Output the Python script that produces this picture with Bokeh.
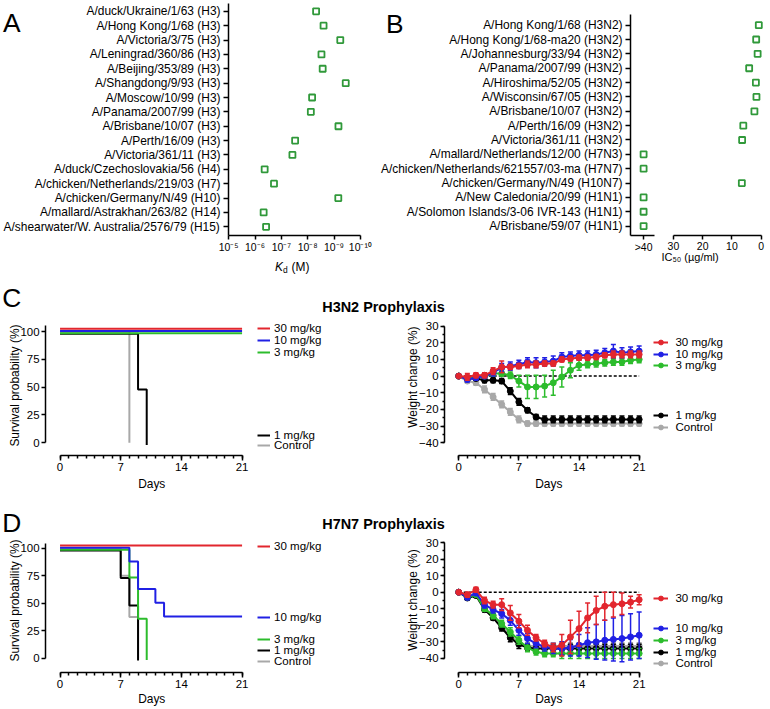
import math
import numpy as np
from bokeh.plotting import figure
from bokeh.models import (Range1d, FixedTicker, Label, Legend, LegendItem, Whisker,
                          TeeHead, ColumnDataSource, GridBox)
from bokeh.layouts import column, row
from bokeh.embed import file_html
from bokeh.resources import INLINE

# ------------------------------------------------------------------ data
strains_a = ["A/duck/Ukraine/1/63 (H3)", "A/Hong Kong/1/68 (H3)", "A/Victoria/3/75 (H3)",
             "A/Leningrad/360/86 (H3)", "A/Beijing/353/89 (H3)", "A/Shangdong/9/93 (H3)",
             "A/Moscow/10/99 (H3)", "A/Panama/2007/99 (H3)", "A/Brisbane/10/07 (H3)",
             "A/Perth/16/09 (H3)", "A/Victoria/361/11 (H3)", "A/duck/Czechoslovakia/56 (H4)",
             "A/chicken/Netherlands/219/03 (H7)", "A/chicken/Germany/N/49 (H10)",
             "A/mallard/Astrakhan/263/82 (H14)", "A/shearwater/W. Australia/2576/79 (H15)"]
kd_a = [4.8e-9, 2.5e-9, 5.8e-10, 3.0e-9, 2.7e-9, 3.6e-10, 6.8e-9, 7.6e-9, 6.8e-10,
        3.0e-8, 3.8e-8, 4.3e-7, 1.9e-7, 6.9e-10, 4.7e-7, 3.8e-7]
kd_ticks = [1e-5, 1e-6, 1e-7, 1e-8, 1e-9, 1e-10]
kd_tick_labels = ["10\u207b\u2075", "10\u207b\u2076", "10\u207b\u2077", "10\u207b\u2078",
                  "10\u207b\u2079", "10\u207b\u00b9\u2070"]

strains_b = ["A/Hong Kong/1/68 (H3N2)", "A/Hong Kong/1/68-ma20 (H3N2)", "A/Johannesburg/33/94 (H3N2)",
             "A/Panama/2007/99 (H3N2)", "A/Hiroshima/52/05 (H3N2)", "A/Wisconsin/67/05 (H3N2)",
             "A/Brisbane/10/07 (H3N2)", "A/Perth/16/09 (H3N2)", "A/Victoria/361/11 (H3N2)",
             "A/mallard/Netherlands/12/00 (H7N3)", "A/chicken/Netherlands/621557/03-ma (H7N7)",
             "A/chicken/Germany/N/49 (H10N7)", "A/New Caledonia/20/99 (H1N1)",
             "A/Solomon Islands/3-06 IVR-143 (H1N1)", "A/Brisbane/59/07 (H1N1)"]
ic50_b = [0.8, 1.7, 1.2, 4.1, 1.8, 1.6, 2.3, 6.1, 6.5, ">40", ">40", 6.6, ">40", ">40", ">40"]
ic50_ticks = [30, 20, 10, 0]
GT40 = ">40"
GT40_POS = 40

doses = ["30 mg/kg", "10 mg/kg", "3 mg/kg", "1 mg/kg", "Control"]

# survival (Kaplan-Meier steps), H3N2
c_s30_days, c_s30 = [0, 21], [100, 100]
c_s10_days, c_s10 = [0, 21], [100, 100]
c_s3_days, c_s3 = [0, 21], [100, 100]
c_s1_days, c_s1 = [0, 9, 10], [100, 50, 0]
c_sc_days, c_sc = [0, 8], [100, 0]
# survival, H7N7
d_s30_days, d_s30 = [0, 21], [100, 100]
d_s10_days, d_s10 = [0, 8, 9, 11, 12, 21], [100, 87.5, 62.5, 50, 37.5, 37.5]
d_s3_days, d_s3 = [0, 8, 9, 10], [100, 75, 37.5, 0]
d_s1_days, d_s1 = [0, 7, 8, 9], [100, 75, 50, 0]
d_sc_days, d_sc = [0, 7, 8, 9], [100, 75, 37.5, 0]

days = [0, 1, 2, 3, 4, 5, 6, 7, 8, 9, 10, 11, 12, 13, 14, 15, 16, 17, 18, 19, 20, 21]
# weight change (%), H3N2
c_w30 = [0, -0.5, 0.5, 0.5, 3, 5.5, 5.5, 6, 7, 7, 7.5, 7.5, 10, 10.5, 11, 11, 11.5, 12.5, 13, 13, 13, 13]
c_e30 = [0, 2, 1.5, 1.5, 2, 3.5, 1.5, 1.5, 2, 2, 1.5, 1.5, 1.5, 1.5, 1.5, 1.5, 1.5, 1.5, 2, 2, 2, 2]
c_w10 = [0, -2, -1, 0, 2, 5, 6, 7, 8.5, 8, 8.5, 9, 11.5, 12, 12.5, 12.5, 13, 14, 15, 14, 14.5, 15]
c_e10 = [0, 1.5, 1.5, 1.5, 2, 2.5, 2.5, 2.5, 2.5, 3, 2.5, 3, 2.5, 2.5, 2.5, 2.5, 2.5, 2.5, 4, 3, 3, 3]
c_w3 = [0, -1.5, -0.5, 0, 1.5, 1.5, 0.5, -3, -6.5, -6.5, -6, -4, -0.5, 3.5, 6.5, 7, 7.5, 8, 8.5, 8.5, 9.5, 10]
c_e3 = [0, 1, 1, 1, 1.5, 1.5, 2, 3.5, 7, 7, 6.5, 7.5, 6, 4.5, 3, 2, 2, 2, 2, 2, 2, 2]
c_w1 = [0, -1.5, -1.5, -2.5, -2.5, -3, -9, -15.5, -20.5, -24.5, -26, -26, -26, -26, -26, -26, -26, -26, -26, -26, -26, -26]
c_e1 = [0, 1, 1, 1.5, 1.5, 1.5, 2, 2, 1.5, 1.5, 2, 2, 2, 2, 2, 2, 2, 2, 2, 2, 2, 2]
c_wc = [0, -3, -4, -8, -12.5, -17, -21.5, -26, -28.5, -28.5, -28.5, -28.5, -28.5, -28.5, -28.5, -28.5, -28.5, -28.5, -28.5, -28.5, -28.5, -28.5]
c_ec = [0, 1, 1.5, 2, 2, 2, 2, 2, 1.5, 1.5, 1.5, 1.5, 1.5, 1.5, 1.5, 1.5, 1.5, 1.5, 1.5, 1.5, 1.5, 1.5]
# weight change (%), H7N7
d_w30 = [0, -1.5, 1.5, -5, -7.5, -7.5, -12.5, -17.5, -23, -27.5, -31, -33.5, -32, -27, -22, -15.5, -11, -8.5, -7.5, -7, -6, -4.5]
d_e30 = [0, 1.5, 1.5, 2, 2, 3.5, 4.5, 4, 3, 2, 2, 2.5, 6.5, 10, 10.5, 9, 8.5, 8.5, 7.5, 6.5, 3.5, 3]
d_w10 = [0, -3, -0.5, -7.5, -10.5, -13, -17, -23, -28, -31, -33, -34, -34, -33.5, -32, -30.5, -30, -29, -28.5, -28, -27, -26]
d_e10 = [0, 1.5, 1.5, 2, 2, 2.5, 3, 3, 3, 2.5, 2.5, 3, 4, 5, 6.5, 9, 10.5, 12, 13, 14, 14, 14]
d_w3 = [0, -3, -1.5, -10, -14, -19, -24, -29, -33.5, -36, -37, -37, -37, -37, -37, -37, -37, -37, -37, -37, -37, -37]
d_e3 = [0, 1, 1, 1.5, 2, 2, 2.5, 2.5, 2.5, 2, 2, 2, 3, 3, 3, 3, 3, 3, 3, 3, 3, 3]
d_w1 = [0, -3.5, -2, -10.5, -15.5, -21.5, -27.5, -31.5, -33.5, -34, -34, -34, -34, -34, -34, -34, -34, -34, -34, -34, -34, -34]
d_e1 = [0, 1, 1, 1.5, 1.5, 2, 2.5, 2.5, 2, 2, 2, 2, 2.5, 2.5, 2.5, 2.5, 2.5, 2.5, 2.5, 2.5, 2.5, 2.5]
d_wc = [0, -3, -2, -9.5, -14, -20, -26, -30.5, -32.5, -32.5, -32.5, -32.5, -32.5, -32.5, -32.5, -32.5, -32.5, -32.5, -32.5, -32.5, -32.5, -32.5]
d_ec = [0, 1, 1, 1.5, 1.5, 2, 2, 2, 2, 2, 2, 2, 2, 2, 2, 2, 2, 2, 2, 2, 2, 2]

# ------------------------------------------------------------------ style
S = 0.995
FONT = "Liberation Sans"
RED, BLUE, GREEN, BLACK, GREY = "#e2262e", "#2020e4", "#2cbc2c", "#000000", "#a8a8a8"
SQ_GREEN = "#30993a"
COLORS = [RED, BLUE, GREEN, BLACK, GREY]
# GraphPad-style small vertical nudges (in %) so that coinciding survival curves stay visible
SURV_NUDGE = [2.5, 0.5, -1.5, -2.0, 0.0]


def fs(v):
    return f"{v * S:.2f}px"


class Fig:
    pass


def make_fig(ox, oy, w, h, frame, xcal, ycal, xloc="below", yloc="left"):
    X0, X1 = round(S * ox), round(S * (ox + w))
    Y0, Y1 = round(S * oy), round(S * (oy + h))
    l, r, t, b = frame
    L, R, T, B = round(S * l), round(S * r), round(S * t), round(S * b)
    (p1, v1), (p2, v2) = xcal
    (q1, w1), (q2, w2) = ycal
    f = Fig()
    f.fx = lambda p: v1 + (p - p1) * (v2 - v1) / (p2 - p1)
    f.fy = lambda q: w1 + (q - q1) * (w2 - w1) / (q2 - q1)
    f.frame = (L / S, R / S, T / S, B / S)
    pad = 0.6 / S
    p = figure(width=X1 - X0, height=Y1 - Y0, title=None,
               x_range=Range1d(f.fx(L / S - pad), f.fx(R / S + pad)),
               y_range=Range1d(f.fy(B / S + pad), f.fy(T / S - pad)),
               min_border_left=L - X0, min_border_right=X1 - R,
               min_border_top=T - Y0, min_border_bottom=Y1 - B,
               x_axis_location=xloc, y_axis_location=yloc,
               output_backend="svg", toolbar_location=None, tools="")
    p.outline_line_color = None
    p.grid.visible = False
    f.p = p
    return f


def style_axis(ax, size, tick_out=4, minor_out=0, standoff=2):
    ax.axis_line_color = "black"
    ax.axis_line_width = 1.5
    ax.major_tick_line_color = "black"
    ax.major_tick_line_width = 1.5
    ax.minor_tick_line_color = "black"
    ax.minor_tick_line_width = 1.5
    ax.major_tick_out = tick_out
    ax.major_tick_in = 0
    ax.minor_tick_out = minor_out
    ax.minor_tick_in = 0
    ax.major_label_text_font = FONT
    ax.major_label_text_font_size = fs(size)
    ax.major_label_text_color = "black"
    ax.major_label_standoff = standoff


def legend_item(f, renderers, label, gx0, gx1, tx, cy, size=11.6):
    la, ra, ta, ba = f.frame
    h_est = 13
    leg = Legend(items=[LegendItem(label=label, renderers=renderers)],
                 location=(S * (gx0 - la), S * (ba - cy) - h_est / 2),
                 orientation="vertical", padding=0, margin=0, spacing=0,
                 glyph_width=round(S * (gx1 - gx0)), glyph_height=12, label_height=12,
                 label_standoff=round(S * (tx - gx1)),
                 label_text_font=FONT, label_text_font_size=fs(size), label_text_color="black",
                 border_line_alpha=0, background_fill_alpha=0)
    f.p.add_layout(leg)


# plots sharing a row get the same top/bottom frame edges (Bokeh aligns them anyway);
# axis lines are then limited with bounds where the reference axis is shorter
ROW1_TOP, ROW1_BOT = 3.25, 236.0
ROWC_TOP, ROWC_BOT = 316.0, 457.7
ROWD_TOP, ROWD_BOT = 535.0, 675.0

# ------------------------------------------------------------------ panel A
A = make_fig(0, 0, 379, 272, (228.7, 362.3, ROW1_TOP, ROW1_BOT),
             ((228.7, -5), (362.3, -10)), ((10.3, 0), (228.0, 15)))
ya = list(range(len(strains_a)))
A.p.scatter(x=list(np.log10(kd_a)), y=ya, marker="square", size=6, fill_color="white",
            line_color=SQ_GREEN, line_width=1.8)
exps = [int(round(math.log10(t))) for t in kd_ticks]
ax = A.p.xaxis[0]
style_axis(ax, 10.5, tick_out=4, standoff=2)
ax.ticker = FixedTicker(ticks=exps, minor_ticks=[])
ax.major_label_overrides = dict(zip(exps, kd_tick_labels))
ay = A.p.yaxis[0]
style_axis(ay, 12, tick_out=5, standoff=3)
ay.ticker = FixedTicker(ticks=ya, minor_ticks=[])
ay.major_label_overrides = dict(zip(ya, strains_a))

# ------------------------------------------------------------------ panel B
xcalB = ((675.7, 30), (765, 0))
ycalB = ((24.3, 0), (227.3, 14))
B1 = make_fig(379, 0, 283, 272, (632.3, 657.7, ROW1_TOP, ROW1_BOT), xcalB, ycalB)
B2 = make_fig(662, 0, 108, 272, (675.7, 770, ROW1_TOP, ROW1_BOT), xcalB, ycalB, yloc=None)
yb = list(range(len(strains_b)))
gt_y = [y for y, v in zip(yb, ic50_b) if v == GT40]
num_y = [y for y, v in zip(yb, ic50_b) if v != GT40]
num_x = [v for v in ic50_b if v != GT40]
B1.p.scatter(x=[GT40_POS] * len(gt_y), y=gt_y, marker="square", size=6, fill_color="white",
             line_color=SQ_GREEN, line_width=1.8)
B2.p.scatter(x=num_x, y=num_y, marker="square", size=6, fill_color="white",
             line_color=SQ_GREEN, line_width=1.8)
bx1 = B1.p.xaxis[0]
style_axis(bx1, 10.5, tick_out=4, standoff=2)
bx1.ticker = FixedTicker(ticks=[GT40_POS], minor_ticks=[])
bx1.major_label_overrides = {GT40_POS: GT40}
by = B1.p.yaxis[0]
style_axis(by, 12, tick_out=5, standoff=3)
by.ticker = FixedTicker(ticks=yb, minor_ticks=[])
by.major_label_overrides = dict(zip(yb, strains_b))
by.bounds = (B1.fy(13.3), B1.fy(ROW1_BOT + 2))
bx2 = B2.p.xaxis[0]
style_axis(bx2, 10.5, tick_out=4, standoff=2)
bx2.ticker = FixedTicker(ticks=ic50_ticks, minor_ticks=[])
bx2.bounds = (min(ic50_ticks), max(ic50_ticks))


# ------------------------------------------------------------------ survival + weight panels
def survival_panel(f, series, legend_y, axis_top):
    p = f.p
    rends = [None] * 5
    for i in [4, 3, 2, 1, 0]:
        dd, ss = series[i]
        rends[i] = p.step(x=dd, y=[v + SURV_NUDGE[i] for v in ss], mode="after",
                          line_color=COLORS[i], line_width=2)
    xa = p.xaxis[0]
    style_axis(xa, 11.5, tick_out=5, minor_out=3, standoff=2)
    xa.ticker = FixedTicker(ticks=[0, 7, 14, 21], minor_ticks=days)
    xa.bounds = (days[0], days[-1])
    ya_ = p.yaxis[0]
    style_axis(ya_, 11.5, tick_out=4, standoff=2)
    ya_.ticker = FixedTicker(ticks=[0, 25, 50, 75, 100], minor_ticks=[])
    ya_.bounds = (0, f.fy(axis_top))
    for i in range(5):
        legend_item(f, [rends[i]], doses[i], 258.3, 271.7, 275.3, legend_y[i])


def weight_panel(f, series, legend_y):
    p = f.p
    p.line(x=[days[0], days[-1]], y=[0, 0], line_color="black", line_width=1.5, line_dash="3 2")
    rends = [None] * 5
    for i in [4, 3, 2, 1, 0]:
        mean, err = series[i]
        col = COLORS[i]
        idx = [k for k in range(len(days)) if err[k] > 0]
        src = ColumnDataSource(dict(x=[days[k] for k in idx],
                                    lo=[mean[k] - err[k] for k in idx],
                                    hi=[mean[k] + err[k] for k in idx]))
        w = Whisker(source=src, base="x", lower="lo", upper="hi", line_color=col, line_width=1.5,
                    upper_head=TeeHead(size=5, line_color=col, line_width=1.5),
                    lower_head=TeeHead(size=5, line_color=col, line_width=1.5), level="glyph")
        p.renderers.append(w)
        lr = p.line(x=days, y=mean, line_color=col, line_width=2)
        sr = p.scatter(x=days, y=mean, marker="circle", size=6, fill_color=col, line_color=col)
        rends[i] = [lr, sr]
    xa = p.xaxis[0]
    style_axis(xa, 11.5, tick_out=5, minor_out=3, standoff=2)
    xa.ticker = FixedTicker(ticks=[0, 7, 14, 21], minor_ticks=days)
    xa.bounds = (days[0], days[-1])
    ya_ = p.yaxis[0]
    style_axis(ya_, 11.5, tick_out=4, minor_out=2, standoff=2)
    ya_.ticker = FixedTicker(ticks=[-40, -30, -20, -10, 0, 10, 20, 30],
                             minor_ticks=[-40, -35, -30, -25, -20, -15, -10, -5, 0, 5, 10, 15, 20, 25, 30])
    ya_.bounds = (-40, 30)
    for i in range(5):
        legend_item(f, rends[i], doses[i], 656.7, 671.7, 679, legend_y[i])


C1 = make_fig(0, 272, 385, 221, (45.7, 335, ROWC_TOP, ROWC_BOT), ((59.3, 0), (243, 21)), ((332.3, 100), (445, 0)))
survival_panel(C1, [(c_s30_days, c_s30), (c_s10_days, c_s10), (c_s3_days, c_s3),
                    (c_s1_days, c_s1), (c_sc_days, c_sc)],
               [328.7, 341.2, 353.7, 436.2, 447.0], 325.7)
C2 = make_fig(385, 272, 385, 221, (446, 762, ROWC_TOP, ROWC_BOT), ((460, 0), (642, 21)), ((326.7, 30), (445, -40)))
weight_panel(C2, [(c_w30, c_e30), (c_w10, c_e10), (c_w3, c_e3), (c_w1, c_e1), (c_wc, c_ec)],
             [343.3, 355.0, 366.7, 416.7, 428.3])
D1 = make_fig(0, 493, 385, 216, (45.7, 335, ROWD_TOP, ROWD_BOT), ((59.3, 0), (243, 21)), ((550, 100), (661.7, 0)))
survival_panel(D1, [(d_s30_days, d_s30), (d_s10_days, d_s10), (d_s3_days, d_s3),
                    (d_s1_days, d_s1), (d_sc_days, d_sc)],
               [548.3, 619.3, 641.7, 652.9, 664.0], 545)
D2 = make_fig(385, 493, 385, 216, (446, 762, ROWD_TOP, ROWD_BOT), ((460, 0), (642, 21)), ((544.3, 30), (661.7, -40)))
weight_panel(D2, [(d_w30, d_e30), (d_w10, d_e10), (d_w3, d_e3), (d_w1, d_e1), (d_wc, d_ec)],
             [601.0, 631.0, 642.7, 654.4, 665.8])

main = column(row(A.p, B1.p, B2.p), row(C1.p, C2.p), row(D1.p, D2.p))

# ------------------------------------------------------------------ transparent text overlay
TW, TH = round(S * 770), 707
ov = figure(width=TW, height=TH, title=None, x_range=Range1d(0, TW / S), y_range=Range1d(TH / S, 0),
            min_border=0, min_border_left=0, min_border_right=0, min_border_top=0, min_border_bottom=0,
            x_axis_location=None, y_axis_location=None,
            output_backend="svg", toolbar_location=None, tools="")
ov.outline_line_color = None
ov.grid.visible = False
ov.background_fill_color = None
ov.border_fill_color = None


def text(x, y, s, size, align="left", baseline="alphabetic", angle=0.0, style="normal"):
    ov.add_layout(Label(x=x, y=y, text=s, text_font=FONT, text_font_size=fs(size),
                        text_align=align, text_baseline=baseline, angle=angle,
                        text_font_style=style, text_color="black"))


text(2.5, 22.7, "A", 26.5)
text(387.5, 23.3, "B", 26.5)
text(1.7, 299, "C", 26.5)
text(1.7, 525, "D", 26.5)
text(385, 308.3, "H3N2 Prophylaxis", 14.5, align="center", style="bold")
text(385, 526.3, "H7N7 Prophylaxis", 14.5, align="center", style="bold")
text(276, 268.3, "K", 12, style="italic")
text(283.8, 270.6, "d", 8.5)
text(292.5, 268.3, "(M)", 12)
text(693, 258, "IC\u2085\u2080 (\u00b5g/ml)", 11, align="center")
for (xx, yy, s) in [(14.5, 387, "Survival probability (%)"), (414.5, 378.5, "Weight change (%)"),
                    (14.5, 603, "Survival probability (%)"), (414.5, 602.5, "Weight change (%)")]:
    text(xx, yy, s, 12, align="center", baseline="middle", angle=math.pi / 2)
for (xx, yy) in [(152, 486.3), (551, 486.3), (152, 702.0), (551, 702.0)]:
    text(xx, yy, "Days", 12, align="center")

page = GridBox(children=[(main, 0, 0), (ov, 0, 0)])

with open("out.html", "w", encoding="utf-8") as fh:
    fh.write(file_html(page, INLINE))
